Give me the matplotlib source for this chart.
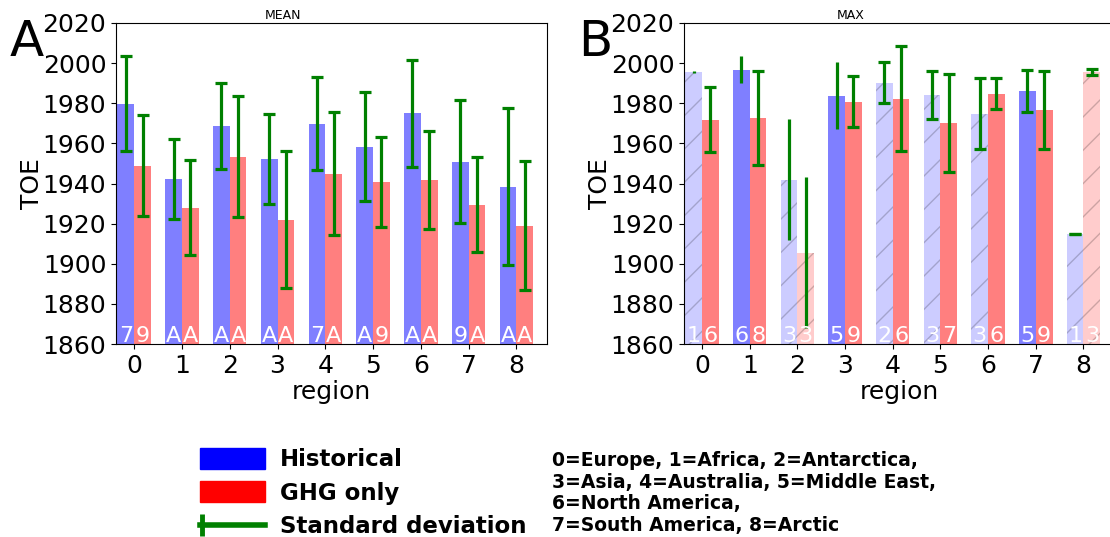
"""Time of emergence per region: MEAN and MAX panels, Historical vs GHG only."""

import matplotlib
matplotlib.use("Agg")
import matplotlib.pyplot as plt
import numpy as np
from matplotlib.legend_handler import HandlerBase
from matplotlib.lines import Line2D
from matplotlib.patches import Patch
from matplotlib.ticker import MultipleLocator

regions = [0, 1, 2, 3, 4, 5, 6, 7, 8]
region_text = ("0=Europe, 1=Africa, 2=Antarctica,\n3=Asia, 4=Australia, 5=Middle East,\n"
               "6=North America,\n7=South America, 8=Arctic")

# MEAN panel
mean_hist = [1979.7, 1942.2, 1968.8, 1952.4, 1969.8, 1958.4, 1975.1, 1950.9, 1938.4]
mean_hist_std = [23.7, 19.9, 21.4, 22.4, 23.2, 27.0, 26.7, 30.7, 39.1]
mean_ghg = [1948.9, 1928.0, 1953.4, 1922.0, 1944.9, 1940.9, 1941.9, 1929.5, 1919.0]
mean_ghg_std = [25.3, 23.8, 30.3, 34.0, 30.8, 22.4, 24.4, 23.5, 32.0]
mean_hist_n = ["7", "A", "A", "A", "7", "A", "A", "9", "A"]
mean_ghg_n = ["9", "A", "A", "A", "A", "9", "A", "A", "A"]
mean_hist_caps = [True] * 9
mean_ghg_caps = [True] * 9

# MAX panel
max_hist = [1995.7, 1996.7, 1941.9, 1983.8, 1990.3, 1984.3, 1974.8, 1986.3, 1915.0]
max_hist_std = [0.4, 6.8, 30.2, 16.8, 10.1, 12.0, 17.7, 10.5, 0.0]
max_ghg = [1971.8, 1972.8, 1905.4, 1980.8, 1982.3, 1970.2, 1984.8, 1976.8, 1995.7]
max_ghg_std = [16.2, 23.4, 37.6, 12.6, 26.3, 24.4, 7.9, 19.4, 1.6]
max_hist_n = ["1", "6", "3", "5", "2", "3", "3", "5", "1"]
max_ghg_n = ["6", "8", "3", "9", "6", "7", "6", "9", "3"]
max_hist_caps = [False, False, False, False, True, True, True, True, True]
max_ghg_caps = [True, True, False, True, True, True, True, True, True]

W = 0.35
FS = 18


class CapLineHandler(HandlerBase):
    # green bar with a single cap at its left end
    def create_artists(self, legend, orig_handle, xdescent, ydescent, width, height, fontsize, trans):
        y = height / 2 - ydescent
        line = Line2D([-xdescent, width - xdescent], [y, y], color="green", lw=4, transform=trans)
        cap = Line2D([-xdescent + 1.5], [y], color="green", marker="|", ms=16, mew=3.5,
                     linestyle="none", transform=trans)
        return [line, cap]


def draw_bars(ax, xs, vals, stds, labels, caps, color):
    for x, v, s, lab, cap in zip(xs, vals, stds, labels, caps):
        few = int(lab, 16) < 5  # few members -> faint hatched bar
        ax.bar(x, v, W, color=color, alpha=0.2 if few else 0.5, hatch="/" if few else None,
               edgecolor="black" if few else color, linewidth=0)
        ax.errorbar(x, v, yerr=s, color="green", elinewidth=2.3, capthick=2.3,
                    capsize=4 if cap else 0, zorder=3)
        ax.text(x, 1861, lab, color="white", ha="center", va="baseline", fontsize=16)


def panel(ax, hist, hist_std, hist_n, hist_caps, ghg, ghg_std, ghg_n, ghg_caps, title):
    x = np.array(regions)
    draw_bars(ax, x - W / 2, hist, hist_std, hist_n, hist_caps, "blue")
    draw_bars(ax, x + W / 2, ghg, ghg_std, ghg_n, ghg_caps, "red")
    ax.set_ylim(1860, 2020)
    ax.yaxis.set_major_locator(MultipleLocator(20))
    ax.set_xlim(-0.38, 8.64)
    ax.set_xticks(x)
    ax.tick_params(labelsize=FS)
    ax.set_xlabel("region", fontsize=FS, labelpad=2)
    ax.set_ylabel("TOE", fontsize=FS, labelpad=-1)
    ax.set_title(title, fontsize=9, x=0.388, pad=3)


def main():
    fig = plt.figure(figsize=(11.1, 5.37), dpi=100)
    bottom, height = (537 - 344) / 537, 321 / 537
    ax1 = fig.add_axes([116 / 1110, bottom, 431 / 1110, height])
    ax2 = fig.add_axes([684 / 1110, bottom, 430 / 1110, height])

    panel(ax1, mean_hist, mean_hist_std, mean_hist_n, mean_hist_caps,
          mean_ghg, mean_ghg_std, mean_ghg_n, mean_ghg_caps, "MEAN")
    panel(ax2, max_hist, max_hist_std, max_hist_n, max_hist_caps,
          max_ghg, max_ghg_std, max_ghg_n, max_ghg_caps, "MAX")

    fig.text(10 / 1110, 1 - 56 / 537, "A", fontsize=36, va="baseline")
    fig.text(578 / 1110, 1 - 56 / 537, "B", fontsize=36, va="baseline")

    err_handle = Line2D([], [], color="green")
    handles = [Patch(color="blue"), Patch(color="red"), err_handle]
    fig.legend(handles, ["Historical", "GHG only", "Standard deviation"],
               handler_map={err_handle: CapLineHandler()},
               loc="upper left", bbox_to_anchor=(200 / 1110, 1 - 448 / 537),
               frameon=False, borderpad=0, borderaxespad=0, handlelength=2.85,
               handleheight=1.0, handletextpad=0.63, labelspacing=0.45,
               prop={"weight": "bold", "size": 16.5})

    fig.text(552 / 1110, 1 - 451 / 537, region_text, fontsize=13.5, fontweight="bold",
             va="top", linespacing=1.17)

    fig.savefig("out.png", dpi=100)


if __name__ == "__main__":
    main()
